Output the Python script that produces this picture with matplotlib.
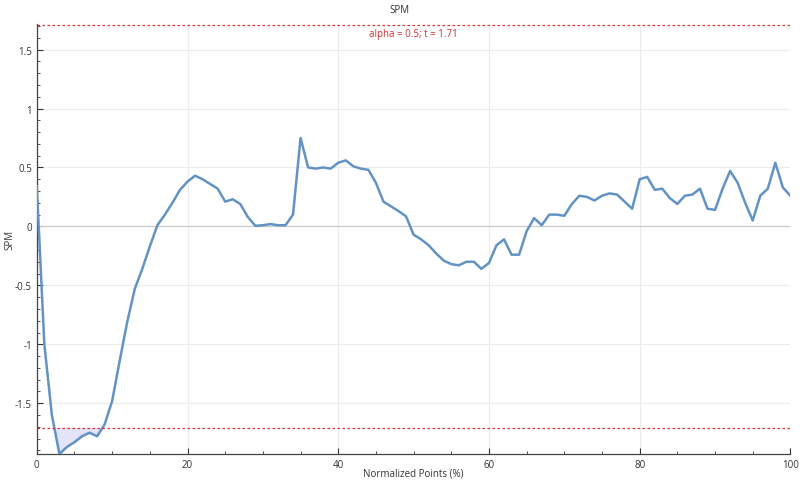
import numpy as np
import matplotlib.pyplot as plt
from matplotlib.ticker import MultipleLocator

plt.rcParams['font.family'] = ['Open Sans', 'DejaVu Sans']

# SPM statistic at each normalized point 0..100
points = np.arange(0, 101)
spm = [0.34, -1.0, -1.6, -1.93, -1.87, -1.83, -1.78, -1.75, -1.78, -1.68,
       -1.48, -1.14, -0.81, -0.53, -0.36, -0.17, 0.01, 0.10, 0.20, 0.31,
       0.38, 0.43, 0.40, 0.36, 0.32, 0.21, 0.23, 0.19, 0.08, 0.005,
       0.01, 0.02, 0.01, 0.01, 0.10, 0.75, 0.50, 0.49, 0.50, 0.49,
       0.54, 0.56, 0.51, 0.49, 0.48, 0.37, 0.21, 0.17, 0.13, 0.085,
       -0.07, -0.11, -0.16, -0.23, -0.29, -0.32, -0.33, -0.30, -0.30, -0.36,
       -0.31, -0.16, -0.11, -0.24, -0.24, -0.04, 0.07, 0.01, 0.10, 0.10,
       0.09, 0.19, 0.26, 0.25, 0.22, 0.26, 0.28, 0.27, 0.21, 0.15,
       0.40, 0.42, 0.31, 0.32, 0.24, 0.19, 0.26, 0.27, 0.32, 0.15,
       0.14, 0.32, 0.47, 0.37, 0.20, 0.05, 0.26, 0.32, 0.54, 0.33,
       0.26]
spm = np.array(spm)
tcrit = 1.71
alpha = 0.5

fig = plt.figure(figsize=(8, 4.85), dpi=100)
ax = fig.add_axes([0.046, 0.062, 0.942, 0.886])

txt = '#333333'
ax.grid(True, color='#ececec', linewidth=0.8)
ax.set_axisbelow(True)
ax.axhline(0, color='#cccccc', linewidth=0.9, zorder=1)

ax.fill_between(points, spm, -tcrit, where=spm < -tcrit, interpolate=True,
                color='#e4e4f8', zorder=2)
ax.fill_between(points, spm, tcrit, where=spm > tcrit, interpolate=True,
                color='#e4e4f8', zorder=2)
ax.plot(points, spm, color='#6293c3', linewidth=1.8, zorder=3)

ax.axhline(tcrit, color='#e03030', linestyle=(0, (2, 2)), linewidth=0.9, zorder=4)
ax.axhline(-tcrit, color='#e03030', linestyle=(0, (2, 2)), linewidth=0.9, zorder=4)
ax.text(50, tcrit - 0.03, 'alpha = {}; t = {}'.format(alpha, tcrit), color='#d03030',
        fontsize=7, ha='center', va='top')

ax.set_xlim(0, 100)
ax.set_ylim(spm.min(), tcrit + 0.005)
ax.xaxis.set_major_locator(MultipleLocator(20))
ax.xaxis.set_minor_locator(MultipleLocator(5))
ax.yaxis.set_minor_locator(MultipleLocator(0.1))
ax.tick_params(direction='in', labelsize=7, colors=txt, length=4, width=0.8)
ax.tick_params(which='minor', direction='in', length=2, width=0.6, colors=txt)
ax.set_yticks([-1.5, -1, -0.5, 0, 0.5, 1, 1.5])
ax.set_yticklabels(['-1.5', '-1', '-0.5', '0', '0.5', '1', '1.5'])

for s in ['top', 'right']:
    ax.spines[s].set_visible(False)
for s in ['left', 'bottom']:
    ax.spines[s].set_color('#444444')
    ax.spines[s].set_linewidth(0.9)

ax.set_xlabel('Normalized Points (%)', fontsize=7, color=txt)
ax.set_ylabel('SPM', fontsize=7, color=txt)
ax.xaxis.set_label_coords(0.5, -0.044)
ax.yaxis.set_label_coords(-0.036, 0.5)
ax.xaxis.label.set_va('center')
ax.yaxis.label.set_va('center')
fig.text(0.5, 0.978, 'SPM', fontsize=7, color=txt, ha='center', va='center')

fig.savefig('out.png', dpi=100)
